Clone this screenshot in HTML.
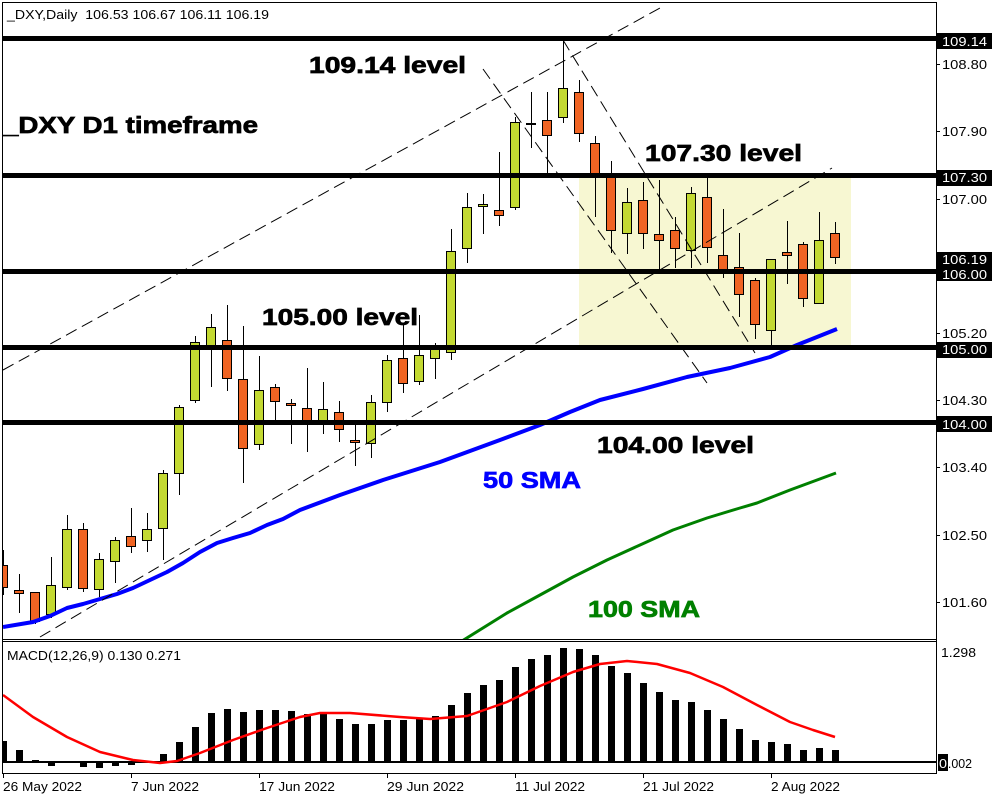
<!DOCTYPE html>
<html><head><meta charset="utf-8"><style>
html,body{margin:0;padding:0;background:#fff;width:1000px;height:800px;overflow:hidden}
svg{display:block}
text{font-family:"Liberation Sans",sans-serif}
.g{fill:#c3d932;stroke:#000;stroke-width:1}
.o{fill:#f06423;stroke:#000;stroke-width:1}
.w{stroke:#000;stroke-width:1}
.ax{font-size:13px;fill:#000}
.lb{font-size:13px;fill:#fff}
.big{font-size:23px;font-weight:bold;stroke-width:0.7}
.dash{stroke:#000;stroke-width:1;stroke-dasharray:12 6;fill:none}
</style></head><body>
<svg width="1000" height="800" viewBox="0 0 1000 800" xmlns="http://www.w3.org/2000/svg">
<defs>
<clipPath id="cm"><rect x="3" y="3" width="933" height="636"/></clipPath>
<clipPath id="cd"><rect x="3" y="642" width="933" height="131"/></clipPath>
</defs>
<rect width="1000" height="800" fill="#fff"/>
<g clip-path="url(#cm)">
<rect x="579" y="175" width="272" height="172" fill="#f7f7d2"/>
<g shape-rendering="crispEdges">
<line class="w" x1="3.5" y1="550" x2="3.5" y2="595"/><rect class="o" x="-1.5" y="565.5" width="9" height="22"/>
<line class="w" x1="19.5" y1="574" x2="19.5" y2="613"/><rect class="o" x="14.5" y="590.5" width="9" height="3"/>
<line class="w" x1="35.5" y1="592" x2="35.5" y2="624"/><rect class="o" x="30.5" y="592.5" width="9" height="29"/>
<line class="w" x1="51.5" y1="557" x2="51.5" y2="618"/><rect class="g" x="46.5" y="585.5" width="9" height="29"/>
<line class="w" x1="67.5" y1="515" x2="67.5" y2="590"/><rect class="g" x="62.5" y="529.5" width="9" height="58"/>
<line class="w" x1="83.5" y1="523" x2="83.5" y2="592"/><rect class="o" x="78.5" y="529.5" width="9" height="59"/>
<line class="w" x1="99.5" y1="553" x2="99.5" y2="597"/><rect class="g" x="94.5" y="559.5" width="9" height="30"/>
<line class="w" x1="115.5" y1="537" x2="115.5" y2="583"/><rect class="g" x="110.5" y="540.5" width="9" height="21"/>
<line class="w" x1="131.5" y1="508" x2="131.5" y2="553"/><rect class="o" x="126.5" y="536.5" width="9" height="10"/>
<line class="w" x1="147.5" y1="513" x2="147.5" y2="552"/><rect class="g" x="142.5" y="529.5" width="9" height="11"/>
<line class="w" x1="163.5" y1="470" x2="163.5" y2="560"/><rect class="g" x="158.5" y="473.5" width="9" height="55"/>
<line class="w" x1="179.5" y1="405" x2="179.5" y2="495"/><rect class="g" x="174.5" y="407.5" width="9" height="66"/>
<line class="w" x1="195.5" y1="336" x2="195.5" y2="403"/><rect class="g" x="190.5" y="342.5" width="9" height="58"/>
<line class="w" x1="211.5" y1="314" x2="211.5" y2="387"/><rect class="g" x="206.5" y="327.5" width="9" height="18"/>
<line class="w" x1="227.5" y1="305" x2="227.5" y2="391"/><rect class="o" x="222.5" y="340.5" width="9" height="38"/>
<line class="w" x1="243.5" y1="326" x2="243.5" y2="483"/><rect class="o" x="238.5" y="379.5" width="9" height="69"/>
<line class="w" x1="259.5" y1="356" x2="259.5" y2="450"/><rect class="g" x="254.5" y="390.5" width="9" height="54"/>
<line class="w" x1="275.5" y1="384" x2="275.5" y2="420"/><rect class="o" x="270.5" y="387.5" width="9" height="14"/>
<line class="w" x1="291.5" y1="399" x2="291.5" y2="444"/><rect class="o" x="286.5" y="403.5" width="9" height="2"/>
<line class="w" x1="307.5" y1="368" x2="307.5" y2="452"/><rect class="o" x="302.5" y="408.5" width="9" height="13"/>
<line class="w" x1="323.5" y1="382" x2="323.5" y2="434"/><rect class="g" x="318.5" y="409.5" width="9" height="12"/>
<line class="w" x1="339.5" y1="401" x2="339.5" y2="442"/><rect class="o" x="334.5" y="412.5" width="9" height="17"/>
<line class="w" x1="355.5" y1="424" x2="355.5" y2="466"/><rect class="o" x="350.5" y="440.5" width="9" height="2"/>
<line class="w" x1="371.5" y1="395" x2="371.5" y2="458"/><rect class="g" x="366.5" y="402.5" width="9" height="41"/>
<line class="w" x1="387.5" y1="355" x2="387.5" y2="412"/><rect class="g" x="382.5" y="360.5" width="9" height="42"/>
<line class="w" x1="403.5" y1="325" x2="403.5" y2="393"/><rect class="o" x="398.5" y="358.5" width="9" height="25"/>
<line class="w" x1="419.5" y1="315" x2="419.5" y2="385"/><rect class="g" x="414.5" y="355.5" width="9" height="26"/>
<line class="w" x1="435.5" y1="343" x2="435.5" y2="379"/><rect class="g" x="430.5" y="349.5" width="9" height="9"/>
<line class="w" x1="451.5" y1="229" x2="451.5" y2="360"/><rect class="g" x="446.5" y="251.5" width="9" height="101"/>
<line class="w" x1="467.5" y1="193" x2="467.5" y2="263"/><rect class="g" x="462.5" y="207.5" width="9" height="41"/>
<line class="w" x1="483.5" y1="194" x2="483.5" y2="234"/><rect class="g" x="478.5" y="204.5" width="9" height="2"/>
<line class="w" x1="499.5" y1="152" x2="499.5" y2="226"/><rect class="o" x="494.5" y="210.5" width="9" height="5"/>
<line class="w" x1="515.5" y1="117" x2="515.5" y2="210"/><rect class="g" x="510.5" y="122.5" width="9" height="85"/>
<line class="w" x1="531.5" y1="92" x2="531.5" y2="148"/><rect class="g" x="526.5" y="123.5" width="9" height="1"/>
<line class="w" x1="547.5" y1="92" x2="547.5" y2="178"/><rect class="o" x="542.5" y="120.5" width="9" height="15"/>
<line class="w" x1="563.5" y1="40" x2="563.5" y2="123"/><rect class="g" x="558.5" y="88.5" width="9" height="29"/>
<line class="w" x1="579.5" y1="80" x2="579.5" y2="142"/><rect class="o" x="574.5" y="92.5" width="9" height="41"/>
<line class="w" x1="595.5" y1="136" x2="595.5" y2="217"/><rect class="o" x="590.5" y="143.5" width="9" height="33"/>
<line class="w" x1="611.5" y1="161" x2="611.5" y2="253"/><rect class="o" x="606.5" y="177.5" width="9" height="53"/>
<line class="w" x1="627.5" y1="188" x2="627.5" y2="254"/><rect class="g" x="622.5" y="202.5" width="9" height="31"/>
<line class="w" x1="643.5" y1="182" x2="643.5" y2="249"/><rect class="o" x="638.5" y="200.5" width="9" height="33"/>
<line class="w" x1="659.5" y1="180" x2="659.5" y2="270"/><rect class="o" x="654.5" y="234.5" width="9" height="6"/>
<line class="w" x1="675.5" y1="217" x2="675.5" y2="268"/><rect class="o" x="670.5" y="230.5" width="9" height="18"/>
<line class="w" x1="691.5" y1="187" x2="691.5" y2="268"/><rect class="g" x="686.5" y="193.5" width="9" height="57"/>
<line class="w" x1="707.5" y1="177" x2="707.5" y2="263"/><rect class="o" x="702.5" y="197.5" width="9" height="50"/>
<line class="w" x1="723.5" y1="209" x2="723.5" y2="278"/><rect class="o" x="718.5" y="255.5" width="9" height="15"/>
<line class="w" x1="739.5" y1="233" x2="739.5" y2="317"/><rect class="o" x="734.5" y="267.5" width="9" height="27"/>
<line class="w" x1="755.5" y1="278" x2="755.5" y2="339"/><rect class="o" x="750.5" y="280.5" width="9" height="44"/>
<line class="w" x1="771.5" y1="259" x2="771.5" y2="347"/><rect class="g" x="766.5" y="259.5" width="9" height="71"/>
<line class="w" x1="787.5" y1="221" x2="787.5" y2="284"/><rect class="o" x="782.5" y="252.5" width="9" height="3"/>
<line class="w" x1="803.5" y1="242" x2="803.5" y2="307"/><rect class="o" x="798.5" y="244.5" width="9" height="54"/>
<line class="w" x1="819.5" y1="212" x2="819.5" y2="304"/><rect class="g" x="814.5" y="240.5" width="9" height="63"/>
<line class="w" x1="835.5" y1="222" x2="835.5" y2="264"/><rect class="o" x="830.5" y="233.5" width="9" height="24"/>
</g>
<polyline fill="none" stroke="#0000ff" stroke-width="4" stroke-linejoin="round" points="3,627 33,622 50,616 67,608 83,604 100,599 117,594 133,588 150,580 167,572 183,563 200,552 217,543 233,538 250,533 267,525 283,519 300,510 340,495 383,480 440,462 500,440 540,425 570,412 600,400 643,389 687,377 730,368 770,357 797,345 837,329"/>
<polyline fill="none" stroke="#008000" stroke-width="3" stroke-linejoin="round" points="462,641 507,613 540,595 573,577 607,560 640,545 673,530 707,518 740,508 757,503 790,490 836,473"/>
<line class="dash" x1="3" y1="370" x2="660" y2="8"/>
<line class="dash" x1="40" y1="637" x2="832" y2="168"/>
<line class="dash" x1="483" y1="69" x2="707" y2="383"/>
<line class="dash" x1="563" y1="40" x2="755" y2="353"/>
<g fill="#000" shape-rendering="crispEdges">
<rect x="3" y="36" width="934" height="5"/>
<rect x="3" y="173" width="934" height="5"/>
<rect x="3" y="269" width="934" height="5"/>
<rect x="3" y="345" width="934" height="5"/>
<rect x="3" y="420" width="934" height="5"/>
</g>
</g>
<!-- annotations -->
<text x="7" y="19" class="ax" textLength="262" lengthAdjust="spacingAndGlyphs" style="white-space:pre" xml:space="preserve">_DXY,Daily  106.53 106.67 106.11 106.19</text>
<text x="309" y="73" class="big" fill="#000" stroke="#000" textLength="157" lengthAdjust="spacingAndGlyphs">109.14 level</text>
<text x="3" y="133" class="big" fill="#000" stroke="#000" textLength="255" lengthAdjust="spacingAndGlyphs">_DXY D1 timeframe</text>
<text x="645" y="161" class="big" fill="#000" stroke="#000" textLength="157" lengthAdjust="spacingAndGlyphs">107.30 level</text>
<text x="262" y="325" class="big" fill="#000" stroke="#000" textLength="156" lengthAdjust="spacingAndGlyphs">105.00 level</text>
<text x="597" y="453" class="big" fill="#000" stroke="#000" textLength="157" lengthAdjust="spacingAndGlyphs">104.00 level</text>
<text x="483" y="488" class="big" fill="#0000ff" stroke="#0000ff" textLength="98" lengthAdjust="spacingAndGlyphs">50 SMA</text>
<text x="588" y="617" class="big" fill="#008000" stroke="#008000" textLength="112" lengthAdjust="spacingAndGlyphs">100 SMA</text>
<!-- MACD -->
<g clip-path="url(#cd)" shape-rendering="crispEdges" fill="#000">
<rect x="0" y="741" width="7" height="21"/>
<rect x="16" y="750" width="7" height="12"/>
<rect x="32" y="760" width="7" height="2"/>
<rect x="48" y="762" width="7" height="4"/>
<rect x="80" y="762" width="7" height="5"/>
<rect x="96" y="762" width="7" height="6"/>
<rect x="112" y="762" width="7" height="4"/>
<rect x="128" y="762" width="7" height="3"/>
<rect x="160" y="754" width="7" height="8"/>
<rect x="176" y="742" width="7" height="20"/>
<rect x="192" y="727" width="7" height="35"/>
<rect x="208" y="713" width="7" height="49"/>
<rect x="224" y="709" width="7" height="53"/>
<rect x="240" y="712" width="7" height="50"/>
<rect x="256" y="710" width="7" height="52"/>
<rect x="272" y="710" width="7" height="52"/>
<rect x="288" y="711" width="7" height="51"/>
<rect x="304" y="714" width="7" height="48"/>
<rect x="320" y="714" width="7" height="48"/>
<rect x="336" y="719" width="7" height="43"/>
<rect x="352" y="724" width="7" height="38"/>
<rect x="368" y="724" width="7" height="38"/>
<rect x="384" y="720" width="7" height="42"/>
<rect x="400" y="720" width="7" height="42"/>
<rect x="416" y="719" width="7" height="43"/>
<rect x="432" y="716" width="7" height="46"/>
<rect x="448" y="705" width="7" height="57"/>
<rect x="464" y="693" width="7" height="69"/>
<rect x="480" y="685" width="7" height="77"/>
<rect x="496" y="680" width="7" height="82"/>
<rect x="512" y="667" width="7" height="95"/>
<rect x="528" y="659" width="7" height="103"/>
<rect x="544" y="655" width="7" height="107"/>
<rect x="560" y="648" width="7" height="114"/>
<rect x="576" y="649" width="7" height="113"/>
<rect x="592" y="655" width="7" height="107"/>
<rect x="608" y="666" width="7" height="96"/>
<rect x="624" y="673" width="7" height="89"/>
<rect x="640" y="683" width="7" height="79"/>
<rect x="656" y="692" width="7" height="70"/>
<rect x="672" y="700" width="7" height="62"/>
<rect x="688" y="702" width="7" height="60"/>
<rect x="704" y="710" width="7" height="52"/>
<rect x="720" y="719" width="7" height="43"/>
<rect x="736" y="729" width="7" height="33"/>
<rect x="752" y="740" width="7" height="22"/>
<rect x="768" y="742" width="7" height="20"/>
<rect x="784" y="744" width="7" height="18"/>
<rect x="800" y="750" width="7" height="12"/>
<rect x="816" y="748" width="7" height="14"/>
<rect x="832" y="750" width="7" height="12"/>
<rect x="3" y="761" width="934" height="2"/>
</g>
<g clip-path="url(#cd)">
<polyline fill="none" stroke="#ff0000" stroke-width="2.5" stroke-linejoin="round" points="3,695 33,717 67,737 100,752 133,760 160,763 177,761 200,753 233,740 267,728 300,717 320,713 350,713 400,717 430,719 467,716 507,702 540,686 573,672 600,664 627,661 657,664 690,673 723,687 757,705 790,722 813,730 835,737"/>
</g>
<text x="7" y="660" class="ax" textLength="174" lengthAdjust="spacingAndGlyphs">MACD(12,26,9) 0.130 0.271</text>
<!-- frames -->
<g stroke="#000" stroke-width="1" shape-rendering="crispEdges" fill="none">
<line x1="2.5" y1="2" x2="2.5" y2="774"/>
<line x1="2" y1="2.5" x2="937" y2="2.5"/>
<line x1="936.5" y1="2" x2="936.5" y2="774"/>
<line x1="2" y1="639.5" x2="937" y2="639.5"/>
<line x1="2" y1="641.5" x2="937" y2="641.5"/>
<line x1="2" y1="773.5" x2="937" y2="773.5"/>
<line x1="937" y1="64.5" x2="940" y2="64.5"/>
<line x1="937" y1="131.5" x2="940" y2="131.5"/>
<line x1="937" y1="199.5" x2="940" y2="199.5"/>
<line x1="937" y1="333.5" x2="940" y2="333.5"/>
<line x1="937" y1="400.5" x2="940" y2="400.5"/>
<line x1="937" y1="467.5" x2="940" y2="467.5"/>
<line x1="937" y1="535.5" x2="940" y2="535.5"/>
<line x1="937" y1="602.5" x2="940" y2="602.5"/>
<line x1="3.5" y1="774" x2="3.5" y2="778"/>
<line x1="131.5" y1="774" x2="131.5" y2="778"/>
<line x1="259.5" y1="774" x2="259.5" y2="778"/>
<line x1="387.5" y1="774" x2="387.5" y2="778"/>
<line x1="515.5" y1="774" x2="515.5" y2="778"/>
<line x1="643.5" y1="774" x2="643.5" y2="778"/>
<line x1="771.5" y1="774" x2="771.5" y2="778"/>
</g>
<!-- right axis labels -->
<text x="942" y="69" class="ax" textLength="45" lengthAdjust="spacingAndGlyphs">108.80</text>
<text x="942" y="136" class="ax" textLength="45" lengthAdjust="spacingAndGlyphs">107.90</text>
<text x="942" y="204" class="ax" textLength="45" lengthAdjust="spacingAndGlyphs">107.00</text>
<text x="942" y="338" class="ax" textLength="45" lengthAdjust="spacingAndGlyphs">105.20</text>
<text x="942" y="405" class="ax" textLength="45" lengthAdjust="spacingAndGlyphs">104.30</text>
<text x="942" y="472" class="ax" textLength="45" lengthAdjust="spacingAndGlyphs">103.40</text>
<text x="942" y="540" class="ax" textLength="45" lengthAdjust="spacingAndGlyphs">102.50</text>
<text x="942" y="607" class="ax" textLength="45" lengthAdjust="spacingAndGlyphs">101.60</text>
<g fill="#000" shape-rendering="crispEdges">
<rect x="937" y="33" width="55" height="16"/>
<rect x="937" y="170" width="55" height="16"/>
<rect x="937" y="252" width="55" height="29"/>
<rect x="937" y="342" width="55" height="16"/>
<rect x="937" y="416" width="55" height="16"/>
<rect x="938" y="754" width="10" height="17"/>
</g>
<text x="942" y="46" class="lb" textLength="45" lengthAdjust="spacingAndGlyphs">109.14</text>
<text x="942" y="182" class="lb" textLength="45" lengthAdjust="spacingAndGlyphs">107.30</text>
<text x="942" y="264" class="lb" textLength="45" lengthAdjust="spacingAndGlyphs">106.19</text>
<text x="942" y="279" class="lb" textLength="45" lengthAdjust="spacingAndGlyphs">106.00</text>
<text x="942" y="354" class="lb" textLength="45" lengthAdjust="spacingAndGlyphs">105.00</text>
<text x="942" y="429" class="lb" textLength="45" lengthAdjust="spacingAndGlyphs">104.00</text>
<text x="941" y="657" class="ax" textLength="35" lengthAdjust="spacingAndGlyphs">1.298</text>
<text x="941" y="768" class="ax" textLength="31" lengthAdjust="spacingAndGlyphs">0.002</text>
<text x="939" y="768" class="lb" textLength="8" lengthAdjust="spacingAndGlyphs">0</text>
<!-- date labels -->
<text x="3" y="791" class="ax" textLength="79" lengthAdjust="spacingAndGlyphs">26 May 2022</text>
<text x="131" y="791" class="ax" textLength="68" lengthAdjust="spacingAndGlyphs">7 Jun 2022</text>
<text x="259" y="791" class="ax" textLength="76" lengthAdjust="spacingAndGlyphs">17 Jun 2022</text>
<text x="387" y="791" class="ax" textLength="77" lengthAdjust="spacingAndGlyphs">29 Jun 2022</text>
<text x="515" y="791" class="ax" textLength="70" lengthAdjust="spacingAndGlyphs">11 Jul 2022</text>
<text x="643" y="791" class="ax" textLength="71" lengthAdjust="spacingAndGlyphs">21 Jul 2022</text>
<text x="771" y="791" class="ax" textLength="69" lengthAdjust="spacingAndGlyphs">2 Aug 2022</text>
</svg>
</body></html>
